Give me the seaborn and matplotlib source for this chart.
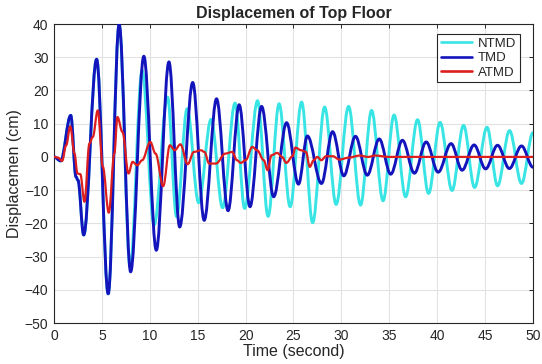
import numpy as np
import pandas as pd
import seaborn as sns
import matplotlib.pyplot as plt
from matplotlib.path import Path
from matplotlib.patches import PathPatch

# peaks / troughs (time in s, displacement in cm)
ntmd_t = [0.0, 0.7, 1.75, 2.3, 2.5, 3.1, 4.45, 5.66, 6.8, 7.95, 9.2, 10.45, 11.85, 12.8, 13.9,
          15.1, 16.4, 17.6, 18.9, 19.9, 21.25, 22.35, 23.5, 24.65, 25.85, 27.0, 28.25, 29.45,
          30.75, 32.0, 33.15, 34.35, 35.5, 36.7, 37.95, 39.1, 40.3, 41.55, 42.75, 43.9, 45.2,
          46.3, 47.55, 48.8, 50.0]
ntmd_v = [0.0, -1.2, 12.5, -6.0, -7.0, -23.5, 29.4, -41.2, 39.9, -33.0, 26.0, -20.5, 18.0, -18.0, 14.5,
          -13.8, 11.3, -15.3, 16.2, -15.5, 16.9, -17.9, 16.0, -15.0, 16.5, -19.8, 15.0, -14.3,
          15.2, -14.5, 14.0, -13.2, 12.6, -12.0, 11.2, -11.0, 10.4, -10.1, 9.5, -9.2, 8.9,
          -8.7, 7.9, -8.0, 7.3]

tmd_t = [0.0, 0.7, 1.75, 2.3, 2.5, 3.1, 4.45, 5.66, 6.8, 8.0, 9.38, 10.68, 12.0, 13.12, 14.48,
         15.68, 16.97, 18.17, 19.33, 20.46, 21.67, 22.93, 24.28, 25.52, 26.45, 27.92, 29.08,
         30.25, 31.47, 32.7, 33.95, 35.15, 36.37, 37.62, 38.85, 40.1, 41.45, 42.6, 43.85,
         45.05, 46.3, 47.53, 48.8, 50.0]
tmd_v = [0.0, -1.2, 12.5, -6.0, -7.0, -23.5, 29.4, -41.2, 39.9, -34.6, 30.3, -28.1, 28.6, -21.1, 22.4,
         -19.1, 17.5, -16.2, 15.7, -15.0, 15.2, -12.0, 10.3, -8.2, 6.3, -8.0, 7.6,
         -5.7, 6.2, -5.5, 5.4, -5.2, 5.0, -4.9, 4.5, -4.6, 4.0, -4.0, 3.6,
         -3.6, 3.5, -3.5, 3.3, -3.1]

atmd_t = [0.0, 0.4, 0.85, 1.27, 1.7, 2.14, 2.45, 2.75, 3.18, 3.7, 4.05, 4.57, 5.1, 5.72, 6.3,
          6.62, 7.15, 7.78, 8.2, 8.7, 9.2, 10.05, 10.6, 11.4, 12.1, 12.6, 13.2, 13.95, 14.6,
          15.35, 15.7, 16.2, 16.9, 17.9, 18.6, 19.1, 19.5, 20.0, 20.7, 21.2, 21.9, 22.3, 22.7,
          23.3, 23.8, 24.25, 24.9, 25.2, 25.8, 26.3, 26.7, 27.1, 27.5, 27.9, 28.4, 29.1, 29.8,
          30.8, 31.9, 32.8, 33.5, 35.0, 40.0, 45.0, 50.0]
atmd_v = [0.0, -0.2, -1.2, 3.5, 9.2, 1.0, -5.0, -5.2, -13.5, 4.0, 6.0, 14.0, -3.0, -16.8, 1.0,
          12.0, 7.5, -5.0, -1.5, -2.5, -1.0, 4.5, 1.0, -8.8, 3.5, 2.0, 3.8, -2.2, 1.5,
          2.0, 1.5, -2.0, -2.0, 1.0, 1.5, -1.0, -1.8, -1.0, 3.0, 2.0, -1.0, -4.0, 0.5,
          1.2, 0.0, -1.8, 0.2, 2.8, 2.0, 1.5, -3.0, -1.0, 0.0, -1.0, 0.2, 0.2, -0.8,
          -0.2, 0.4, 0.0, 0.4, 0.0, 0.0, 0.0, 0.0]

labels = ['NTMD', 'TMD', 'ATMD']
colors = ['#38e4e4', '#1414bc', '#dc1e1e']
widths = [2.1, 2.1, 1.6]


def smooth_path(xy, k=0.36):
    # cubic bezier between the read extrema, flat tangent at each one
    verts = [tuple(xy[0])]
    codes = [Path.MOVETO]
    for (x0, y0), (x1, y1) in zip(xy[:-1], xy[1:]):
        dx = x1 - x0
        verts += [(x0 + k * dx, y0), (x1 - k * dx, y1), (x1, y1)]
        codes += [Path.CURVE4] * 3
    return Path(verts, codes)


df = pd.concat([
    pd.DataFrame({'t': ntmd_t, 'v': ntmd_v, 'case': 'NTMD'}),
    pd.DataFrame({'t': tmd_t, 'v': tmd_v, 'case': 'TMD'}),
    pd.DataFrame({'t': atmd_t, 'v': atmd_v, 'case': 'ATMD'}),
], ignore_index=True)

sns.set_theme(style='white')
plt.rcParams['font.family'] = ['Liberation Sans', 'DejaVu Sans']

fig = plt.figure(figsize=(5.42, 3.64), dpi=100)
ax = fig.add_axes([0.0996, 0.1126, 0.8838, 0.8214])

sns.lineplot(data=df, x='t', y='v', hue='case', hue_order=labels, palette=colors,
             estimator=None, sort=False, linewidth=1.9, ax=ax)

# swap seaborn's straight segments for smooth curves through the same points
for i, ln in enumerate(list(ax.lines[:3])):
    patch = PathPatch(smooth_path(ln.get_xydata()), facecolor='none', edgecolor=colors[i],
                      linewidth=widths[i], joinstyle='round', capstyle='round', zorder=2 + i)
    ax.add_patch(patch)
    ln.set_visible(False)

ax.set_xlim(0, 50)
ax.set_ylim(-50, 40)
ax.set_xticks(np.arange(0, 51, 5))
ax.set_yticks(np.arange(-50, 41, 10))
ax.grid(True, color='#e2e2e2', linewidth=0.8)
ax.set_axisbelow(True)
ax.tick_params(direction='in', length=3, width=0.7, top=True, right=True,
               labelsize=10, colors='#262626', pad=4)
for s in ax.spines.values():
    s.set_color('#262626')
    s.set_linewidth(0.8)

ax.set_title('Displacemen of Top Floor', fontsize=11.5, fontweight='bold', pad=4)
ax.set_xlabel('Time (second)', fontsize=11.5, labelpad=1)
ax.set_ylabel('Displacemen (cm)', fontsize=11.5, labelpad=2)

leg = ax.legend(loc='upper right', bbox_to_anchor=(0.973, 0.967), borderaxespad=0,
                fontsize=9.5, handlelength=2.4, handletextpad=0.4, labelspacing=0.15,
                fancybox=False, framealpha=1, edgecolor='#262626', borderpad=0.3)
leg.get_frame().set_linewidth(0.8)
leg.set_zorder(10)

fig.savefig('out.png', dpi=100)
